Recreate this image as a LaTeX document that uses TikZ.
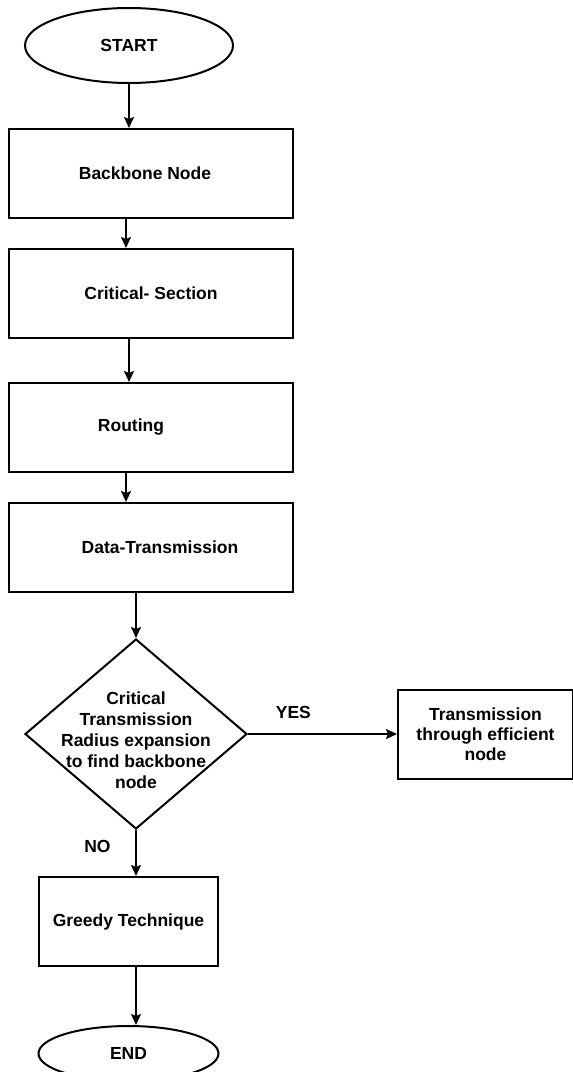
\documentclass[tikz,border=0pt]{standalone}
\usepackage{fontspec}
\setmainfont{Liberation Sans}
\usepackage{tikz}
\usetikzlibrary{shapes.geometric, arrows.meta, positioning}

\begin{document}
\begin{tikzpicture}[
    node distance=22pt,
    terminal/.style={ellipse, draw, line width=1pt, inner sep=0pt, minimum width=104pt, minimum height=37.5pt, font=\fontsize{8.75pt}{10.5pt}\selectfont\bfseries},
    process/.style={rectangle, draw, line width=1pt, minimum width=142pt, minimum height=44.5pt, align=center, font=\fontsize{8.75pt}{10.5pt}\selectfont\bfseries},
    smallprocess/.style={rectangle, draw, line width=1pt, minimum width=89.5pt, minimum height=44.5pt, align=center, font=\fontsize{8.75pt}{10pt}\selectfont\bfseries},
    decision/.style={diamond, draw, line width=1pt, inner sep=0pt, minimum width=111pt, minimum height=95pt},
    decisiontext/.style={align=center, inner sep=0pt, font=\fontsize{8.75pt}{10.5pt}\selectfont\bfseries},
    branch/.style={inner sep=0pt, font=\fontsize{8.75pt}{10.5pt}\selectfont\bfseries},
    arrow/.style={-{Stealth[length=5.5pt, width=5pt, inset=1pt]}, line width=0.9pt},
]
    \useasboundingbox (0pt,0pt) rectangle (286.5pt,-536pt);

    % Start
    \node[terminal] (start) at (64.5pt,-22.75pt) {\raisebox{-3pt}{START}};

    % Main chain of steps (labels sit a little off centre)
    \node[process, below=22pt of start, xshift=11pt] (backbone) {\hspace*{-6pt}Backbone Node};
    \node[process, below=14.5pt of backbone] (critical) {Critical- Section};
    \node[process, below=21.5pt of critical] (routing) {\hspace*{-20pt}Routing};
    \node[process, below=14.5pt of routing] (data) {\hspace*{9pt}Data-Transmission};

    % Decision
    \node[decision, below=22.5pt of data, xshift=-7.5pt] (decision) {};
    \node[decisiontext] (decisiontext) at ([yshift=-3pt]decision.center) {Critical\\Transmission\\Radius expansion\\to find backbone\\node};

    % Yes branch
    \node[smallprocess, right=74.5pt of decision, minimum width=87.5pt] (efficient) {Transmission\\through efficient\\node};

    % No branch
    \node[smallprocess, below=23pt of decision, xshift=-3.75pt] (greedy) {Greedy Technique};
    \node[terminal, below=29pt of greedy, minimum width=90pt, minimum height=27.5pt] (end) {END};

    % Branch labels
    \node[branch, above right=7.7pt and 13.75pt of decision.east] (yes) {YES};
    \node[branch, below left=4.7pt and 12.5pt of decision.south] (no) {NO};

    % Arrows
    \draw[arrow] (start.south) -- (start.south |- backbone.north);
    \draw[arrow] ([xshift=-1.5pt]start |- backbone.south) -- ([xshift=-1.5pt]start |- critical.north);
    \draw[arrow] (start |- critical.south) -- (start |- routing.north);
    \draw[arrow] ([xshift=-1.5pt]start |- routing.south) -- ([xshift=-1.5pt]start |- data.north);
    \draw[arrow] (decision |- data.south) -- (decision.north);
    \draw[arrow] (decision.east) -- (efficient.west);
    \draw[arrow] (decision.south) -- (decision.south |- greedy.north);
    \draw[arrow] (decision |- greedy.south) -- (decision |- end.north);
\end{tikzpicture}
\end{document}
